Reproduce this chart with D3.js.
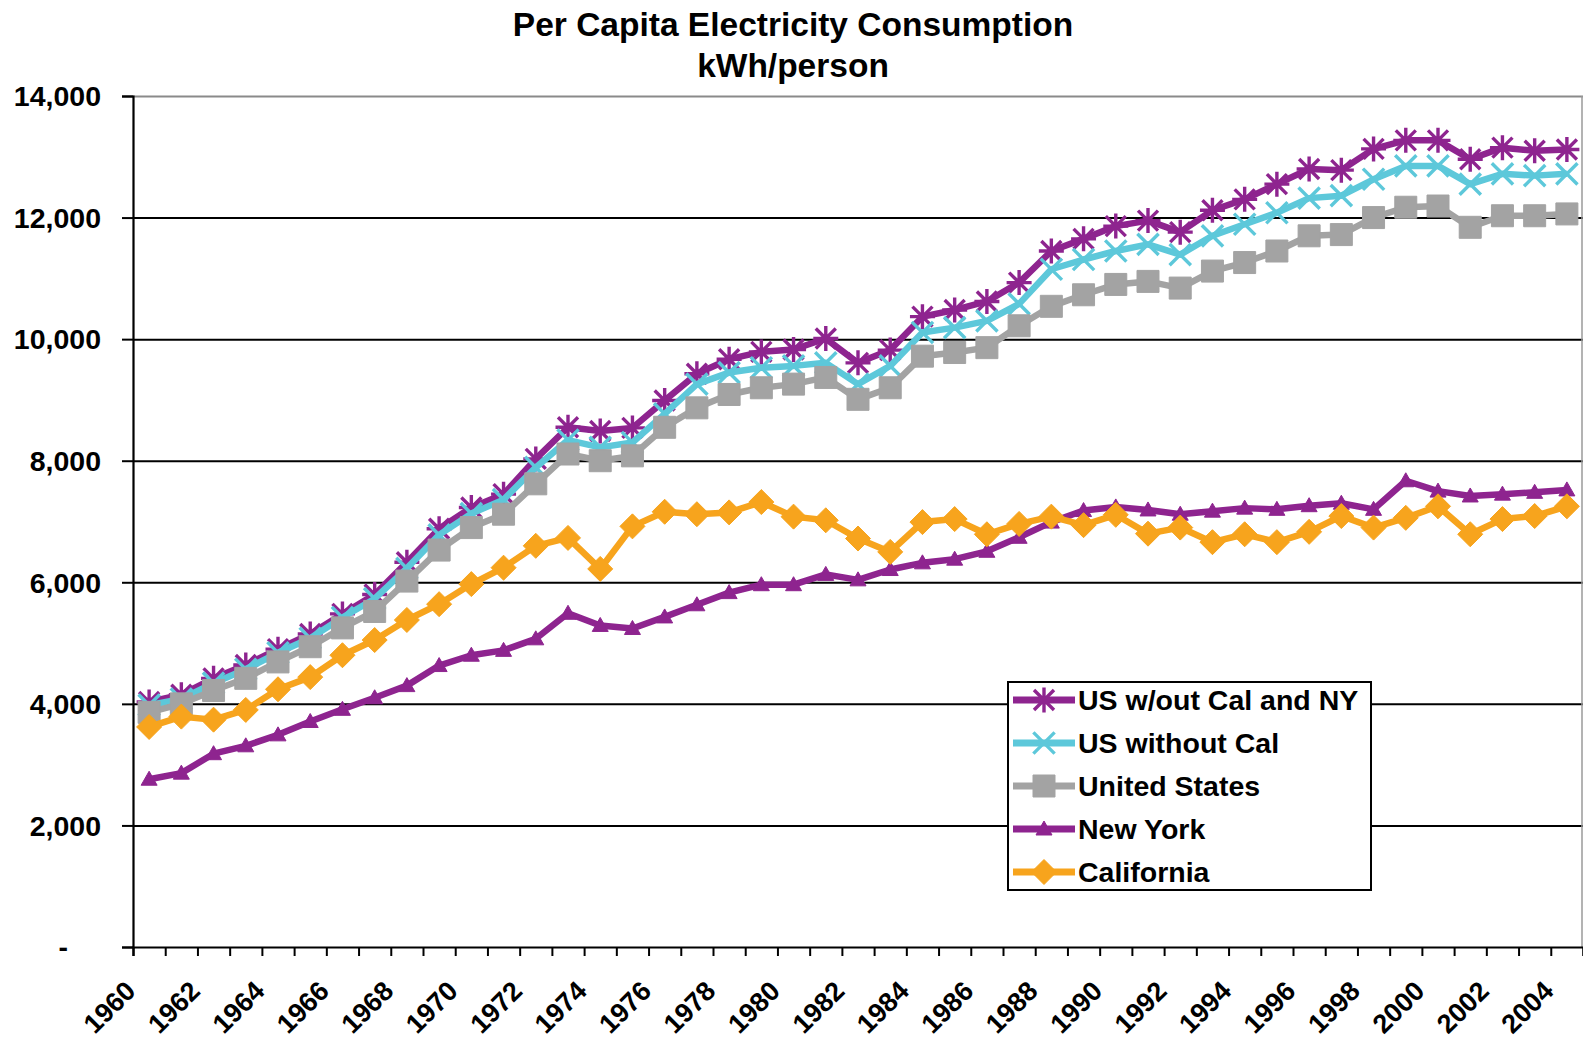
<!DOCTYPE html>
<html><head><meta charset="utf-8">
<script src="https://cdn.jsdelivr.net/npm/d3@7"></script>
<style>
body{margin:0;background:#fff;}
svg{display:block;}
text{font-family:"Liberation Sans",Arial,sans-serif;font-weight:bold;fill:#000;}
</style>
</head><body>
<svg id="chart" width="1583" height="1039"></svg>
<script>
const years = [1960,1961,1962,1963,1964,1965,1966,1967,1968,1969,
  1970,1971,1972,1973,1974,1975,1976,1977,1978,1979,
  1980,1981,1982,1983,1984,1985,1986,1987,1988,1989,
  1990,1991,1992,1993,1994,1995,1996,1997,1998,1999,
  2000,2001,2002,2003,2004];
const xTickLabels = [1960,1962,1964,1966,1968,1970,1972,1974,1976,1978,1980,1982,1984,1986,1988,1990,1992,1994,1996,1998,2000,2002,2004];
const yTicks = [0,2000,4000,6000,8000,10000,12000,14000];
const yTickLabels = ["-","2,000","4,000","6,000","8,000","10,000","12,000","14,000"];

const usWithoutCalNY = [4030,4150,4420,4640,4900,5150,5480,5800,6330,6880,
  7230,7450,8030,8550,8490,8540,8990,9430,9670,9790,
  9830,10010,9610,9820,10370,10480,10620,10930,11450,11650,
  11860,11950,11760,12120,12300,12550,12800,12780,13130,13270,
  13270,12960,13150,13100,13120];
const usWithoutCal = [3980,4080,4340,4570,4840,5080,5420,5730,6230,6780,
  7130,7360,7890,8340,8220,8300,8770,9260,9450,9530,
  9560,9610,9260,9560,10110,10190,10300,10580,11150,11310,
  11450,11560,11390,11700,11890,12080,12320,12360,12630,12850,
  12850,12550,12720,12690,12720];
const unitedStates = [3860,4000,4220,4420,4690,4940,5250,5520,6020,6530,
  6900,7120,7620,8110,8000,8080,8550,8870,9090,9200,
  9260,9370,9010,9200,9720,9780,9860,10220,10540,10730,
  10900,10950,10840,11120,11260,11450,11700,11720,12000,12170,
  12190,11840,12030,12030,12060];
const newYork = [2760,2860,3180,3310,3490,3710,3910,4100,4300,4630,
  4800,4880,5070,5490,5290,5240,5430,5630,5830,5960,
  5960,6130,6040,6210,6320,6380,6510,6740,6990,7180,
  7240,7190,7120,7170,7220,7200,7260,7300,7200,7670,
  7500,7420,7450,7480,7520];
const california = [3620,3790,3740,3900,4240,4440,4800,5050,5380,5640,
  5970,6240,6600,6730,6220,6920,7160,7120,7150,7320,
  7080,7020,6720,6500,6990,7040,6790,6960,7080,6940,
  7110,6800,6900,6660,6790,6660,6830,7090,6900,7060,
  7250,6790,7040,7090,7250];

const seriesNames = ["US w/out Cal and NY","US without Cal","United States","New York","California"];
const seriesColors = ["#8E248F","#5DC8DA","#A3A3A3","#8E248F","#F7A41D"];
const seriesMarkers = ["star","x","square","triangle","diamond"];
const seriesValues = [usWithoutCalNY, usWithoutCal, unitedStates, newYork, california];

const svg = d3.select("#chart");
const plotLeft = 133, plotRight = 1583, plotTop = 96, plotBottom = 947;

const x = d3.scaleBand().domain(years).range([plotLeft, plotRight]).padding(0);
const xb = d3.scaleLinear().domain([0, years.length]).range([plotLeft, plotRight]);
const y = d3.scaleLinear().domain([0, 14000]).range([plotBottom, plotTop]);
const cx = d => x(d) + x.bandwidth()/2;

// title
svg.append("text").attr("x", 793).attr("y", 36).attr("text-anchor","middle")
  .style("font-size","33.5px").text("Per Capita Electricity Consumption");
svg.append("text").attr("x", 793).attr("y", 77).attr("text-anchor","middle")
  .style("font-size","33.5px").text("kWh/person");

// gridlines
const grid = svg.append("g").attr("transform",`translate(${plotLeft},0)`)
  .call(d3.axisLeft(y).tickValues(yTicks.filter(v=>v>0)).tickSize(-(plotRight-plotLeft)).tickFormat(""));
grid.select(".domain").remove();
grid.selectAll(".tick line").attr("stroke", (d)=> d===14000 ? "#8a8a8a" : "#000").attr("stroke-width",2);

// right border
svg.append("line").attr("x1",plotRight-1).attr("x2",plotRight-1).attr("y1",plotTop).attr("y2",plotBottom)
  .attr("stroke","#9a9a9a").attr("stroke-width",1.5);

// y axis
const yAxis = svg.append("g").attr("transform",`translate(${plotLeft},0)`)
  .call(d3.axisLeft(y).tickValues(yTicks).tickSize(11).tickFormat(""));
yAxis.select(".domain").attr("stroke","#000").attr("stroke-width",2.2);
yAxis.selectAll(".tick line").attr("stroke","#000").attr("stroke-width",2);

svg.append("g").selectAll("text").data(yTicks).join("text")
  .attr("x",(d,i)=> i===0 ? 68 : 101)
  .attr("y",d=>y(d))
  .attr("dy","0.36em")
  .attr("text-anchor","end")
  .style("font-size","28.5px")
  .text((d,i)=>yTickLabels[i]);

// x axis
const xAxis = svg.append("g").attr("transform",`translate(0,${plotBottom})`)
  .call(d3.axisBottom(xb).tickValues(d3.range(0, years.length+1)).tickSize(9).tickFormat(""));
xAxis.select(".domain").attr("stroke","#000").attr("stroke-width",2.2);
xAxis.selectAll(".tick line").attr("stroke","#000").attr("stroke-width",2);

svg.append("g").selectAll("text").data(xTickLabels).join("text")
  .attr("transform", d => `translate(${cx(d)-40},1007) rotate(-45)`)
  .attr("text-anchor","middle")
  .attr("dy","0.36em")
  .style("font-size","27px")
  .text(d=>d);

// markers
function markerPath(type){
  const r = 12.5;
  if(type==="star"){
    const d = r*0.8;
    return `M0,${-r}L0,${r}M${-d},${-d}L${d},${d}M${-d},${d}L${d},${-d}M${-r},0L${r},0`;
  }
  if(type==="x"){
    const d = r*0.85;
    return `M${-d},${-d}L${d},${d}M${-d},${d}L${d},${-d}`;
  }
  if(type==="square"){ const s=11; return `M${-s},${-s}H${s}V${s}H${-s}Z`; }
  if(type==="triangle"){ return `M0,-8L8,6L-8,6Z`; }
  if(type==="diamond"){ const s=12.5; return `M0,${-s}L${s},0L0,${s}L${-s},0Z`; }
}
function drawMarker(sel, type, color){
  if(type==="star" || type==="x"){
    sel.attr("d", markerPath(type)).attr("fill","none").attr("stroke",color).attr("stroke-width",3.4);
  } else {
    sel.attr("d", markerPath(type)).attr("fill",color).attr("stroke",color).attr("stroke-width",1);
  }
}

const line = d3.line().x((d,i)=>cx(years[i])).y(d=>y(d));

seriesValues.forEach((vals, si) => {
  const g = svg.append("g");
  g.append("path").datum(vals).attr("d", line)
    .attr("fill","none").attr("stroke",seriesColors[si]).attr("stroke-width",6.5)
    .attr("stroke-linejoin","round");
  g.selectAll("path.m").data(vals).join("path").attr("class","m")
    .attr("transform",(d,i)=>`translate(${cx(years[i])},${y(d)})`)
    .call(drawMarker, seriesMarkers[si], seriesColors[si]);
});

// legend
const lg = svg.append("g");
lg.append("rect").attr("x",1008).attr("y",682).attr("width",363).attr("height",208)
  .attr("fill","#fff").attr("stroke","#000").attr("stroke-width",2);
seriesNames.forEach((name, i) => {
  const ry = 700 + i*43;
  lg.append("line").attr("x1",1013).attr("x2",1075).attr("y1",ry).attr("y2",ry)
    .attr("stroke",seriesColors[i]).attr("stroke-width",7);
  lg.append("path").attr("transform",`translate(1044,${ry})`).call(drawMarker, seriesMarkers[i], seriesColors[i]);
  lg.append("text").attr("x",1078).attr("y",ry).attr("dy","0.36em")
    .style("font-size","28.5px").text(name);
});
</script>
</body></html>
